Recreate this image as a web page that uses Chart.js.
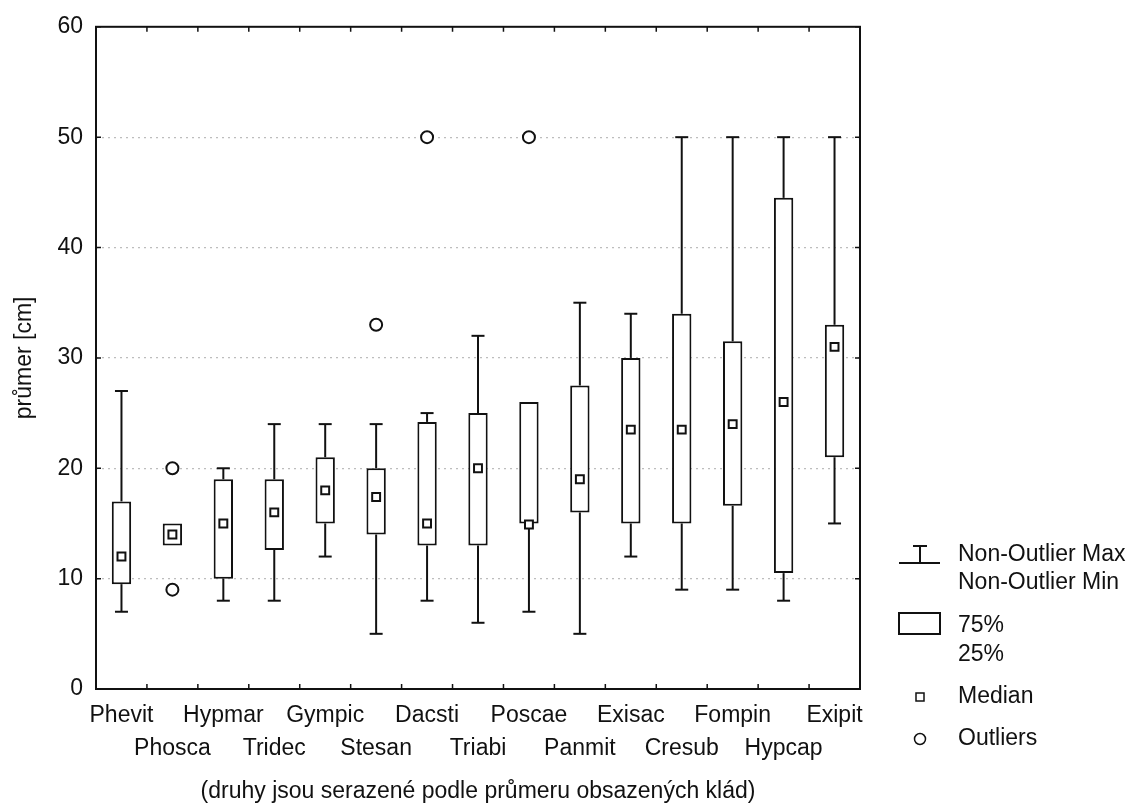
<!DOCTYPE html>
<html>
<head>
<meta charset="utf-8">
<script src="https://cdn.jsdelivr.net/npm/chart.js@4/dist/chart.umd.min.js"></script>
<style>
  body { margin: 0; background: #fff; }
  canvas { display: block; }
</style>
</head>
<body>
<canvas id="boxplot" width="1134" height="811"></canvas>
<script>
// species, sorted by mean diameter
const species = ['Phevit', 'Phosca', 'Hypmar', 'Tridec', 'Gympic', 'Stesan', 'Dacsti', 'Triabi',
                 'Poscae', 'Panmit', 'Exisac', 'Cresub', 'Fompin', 'Hypcap', 'Exipit'];
const whiskerMin = [7, 13, 8, 8, 12, 5, 8, 6, 7, 5, 12, 9, 9, 8, 15];
const q1 = [9.5, 13, 10, 12.6, 15, 14, 13, 13, 15, 16, 15, 15, 16.6, 10.5, 21];
const median = [12, 14, 15, 16, 18, 17.4, 15, 20, 14.9, 19, 23.5, 23.5, 24, 26, 31];
const q3 = [17, 15, 19, 19, 21, 20, 24.2, 25, 26, 27.5, 30, 34, 31.5, 44.5, 33];
const whiskerMax = [27, 15, 20, 24, 24, 24, 25, 32, 26, 35, 34, 50, 50, 50, 50];
const outlierSpecies = ['Phosca', 'Phosca', 'Stesan', 'Dacsti', 'Poscae'];
const outlierValues = [20, 9, 33, 50, 50];
const yTicks = [0, 10, 20, 30, 40, 50, 60];

const FONT = '"Liberation Sans", Arial, sans-serif';
const INK = '#111';
Chart.defaults.font.family = FONT;
Chart.defaults.color = INK;

// whiskers, frame, inward ticks and the legend are drawn here
const boxExtras = {
    id: 'boxExtras',
    beforeDatasetsDraw(chart) {
        const ctx = chart.ctx;
        const x = chart.scales.x, y = chart.scales.y;
        ctx.save();
        ctx.strokeStyle = INK;
        ctx.lineWidth = 2;
        for (let i = 0; i < species.length; i++) {
            const cx = x.getPixelForValue(i);
            const parts = [[whiskerMin[i], q1[i]], [q3[i], whiskerMax[i]]];
            parts.forEach(([a, b]) => {
                if (a === b) return;
                ctx.beginPath();
                ctx.moveTo(cx, y.getPixelForValue(a));
                ctx.lineTo(cx, y.getPixelForValue(b));
                ctx.stroke();
            });
            [whiskerMin[i], whiskerMax[i]].forEach((v, k) => {
                if (v === (k ? q3[i] : q1[i])) return;
                const py = y.getPixelForValue(v);
                ctx.beginPath();
                ctx.moveTo(cx - 6.5, py);
                ctx.lineTo(cx + 6.5, py);
                ctx.stroke();
            });
        }
        ctx.restore();
    },
    afterDatasetsDraw(chart) {
        const ctx = chart.ctx;
        const a = chart.chartArea;
        const x = chart.scales.x, y = chart.scales.y;
        ctx.save();
        ctx.strokeStyle = INK;
        ctx.lineWidth = 2;
        ctx.strokeRect(a.left, a.top, a.right - a.left, a.bottom - a.top);
        ctx.lineWidth = 1.5;
        ctx.beginPath();
        yTicks.forEach(v => {
            const py = y.getPixelForValue(v);
            ctx.moveTo(a.left, py); ctx.lineTo(a.left + 5, py);
            ctx.moveTo(a.right, py); ctx.lineTo(a.right - 5, py);
        });
        const step = (a.right - a.left) / species.length;
        for (let i = 1; i < species.length; i++) {
            const px = a.left + i * step;
            ctx.moveTo(px, a.bottom); ctx.lineTo(px, a.bottom - 5);
            ctx.moveTo(px, a.top); ctx.lineTo(px, a.top + 5);
        }
        ctx.stroke();
        ctx.restore();
    },
    afterDraw(chart) {
        const ctx = chart.ctx;
        ctx.save();
        ctx.strokeStyle = INK;
        ctx.fillStyle = INK;
        ctx.font = '23px ' + FONT;
        ctx.textAlign = 'left';
        ctx.textBaseline = 'middle';
        const tx = 958;
        ctx.fillText('Non-Outlier Max', tx, 555);
        ctx.fillText('Non-Outlier Min', tx, 583);
        ctx.fillText('75%', tx, 626);
        ctx.fillText('25%', tx, 655);
        ctx.fillText('Median', tx, 697);
        ctx.fillText('Outliers', tx, 739);

        ctx.lineWidth = 2;
        ctx.beginPath();
        ctx.moveTo(913, 546); ctx.lineTo(927, 546);
        ctx.moveTo(920, 546); ctx.lineTo(920, 563);
        ctx.moveTo(899, 563); ctx.lineTo(940, 563);
        ctx.stroke();
        ctx.strokeRect(899, 613, 41, 21);

        ctx.lineWidth = 1.5;
        ctx.strokeRect(916, 693, 8, 8);
        ctx.beginPath();
        ctx.arc(920, 739, 5.5, 0, Math.PI * 2);
        ctx.stroke();
        ctx.restore();
    }
};

new Chart(document.getElementById('boxplot'), {
    type: 'bar',
    data: {
        labels: species,
        datasets: [{
            label: '25% - 75%',
            data: species.map((s, i) => [q1[i], q3[i]]),
            backgroundColor: '#fff',
            borderColor: INK,
            borderWidth: 2,
            borderSkipped: false,
            categoryPercentage: 1,
            barPercentage: 0.38,
            order: 3
        }, {
            type: 'line',
            label: 'Median',
            data: median,
            showLine: false,
            pointStyle: 'rect',
            pointRadius: 5.6,
            pointBorderWidth: 2,
            pointBackgroundColor: '#fff',
            pointBorderColor: INK,
            order: 1
        }, {
            type: 'line',
            label: 'Outliers',
            data: outlierSpecies.map((s, i) => ({ x: s, y: outlierValues[i] })),
            showLine: false,
            pointStyle: 'circle',
            pointRadius: 6,
            pointBorderWidth: 2,
            pointBackgroundColor: '#fff',
            pointBorderColor: INK,
            order: 1
        }]
    },
    options: {
        responsive: false,
        animation: false,
        events: [],
        layout: { padding: { top: 23, right: 274, bottom: 0, left: 0 } },
        plugins: {
            legend: { display: false },
            tooltip: { enabled: false }
        },
        scales: {
            x: {
                grid: { display: false, drawTicks: false },
                border: { display: false },
                ticks: {
                    autoSkip: false,
                    maxRotation: 0,
                    minRotation: 0,
                    padding: 10,
                    font: { size: 23, lineHeight: 33 / 23 },
                    callback: (v, i) => i % 2 === 0 ? [species[i]] : ['', species[i]]
                },
                title: {
                    display: true,
                    text: '(druhy jsou serazené podle průmeru obsazených klád)',
                    font: { size: 23, lineHeight: 1.2 },
                    padding: { top: 10, bottom: 6 }
                },
                afterFit: s => { s.height = 122; }
            },
            y: {
                min: 0,
                max: 60,
                grid: {
                    drawTicks: false,
                    color: c => (c.tick.value === 0 || c.tick.value === 60) ? 'rgba(0,0,0,0)' : '#bdbdbd',
                    lineWidth: 1.2
                },
                border: { display: false, dash: [2, 4] },
                ticks: {
                    stepSize: 10,
                    padding: 13,
                    font: { size: 23, lineHeight: 1.2 }
                },
                title: {
                    display: true,
                    text: 'průmer [cm]',
                    font: { size: 23, lineHeight: 1.2 },
                    padding: { top: 11, bottom: 10 }
                },
                afterFit: s => { s.width = 96; }
            }
        }
    },
    plugins: [boxExtras]
});
</script>
</body>
</html>
